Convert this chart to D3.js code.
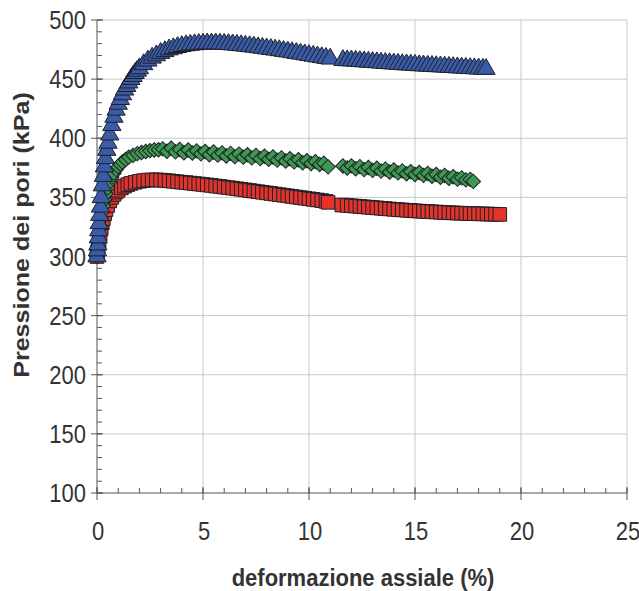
<!DOCTYPE html>
<html><head><meta charset="utf-8">
<script src="https://cdn.jsdelivr.net/npm/d3@7"></script>
<style>
body{margin:0;background:#fff;}
svg{display:block;}
text{font-family:"Liberation Sans",Arial,sans-serif;fill:#333;}
</style></head>
<body>
<svg id="chart" width="639" height="591"></svg>
<script>
// ---- data ----
const xTicks = [0, 5, 10, 15, 20, 25];
const yTicks = [100, 150, 200, 250, 300, 350, 400, 450, 500];
const xTitle = "deformazione assiale (%)";
const yTitle = "Pressione dei pori (kPa)";

// blue triangles (x = strain %, y = kPa)
const blueSeg1 = [[0,300],[0.02,305],[0.04,310],[0.06,316],[0.08,322],[0.1,328],[0.13,335],[0.16,342],[0.2,350],[0.25,360],[0.3,368],[0.35,376],[0.4,383],[0.46,390],[0.52,396],[0.6,403],[0.7,411],[0.8,418],[0.9,424],[1.0,429],[1.1,433],[1.2,437],[1.3,441],[1.4,444],[1.5,447],[1.6,450],[1.7,452.5],[1.8,455],[1.9,457],[2.0,459],[2.2,462.5],[2.4,465.5],[2.6,468],[2.8,470],[3.0,472],[3.2,473.5],[3.4,475],[3.6,476],[3.8,477],[4.0,477.8],[4.2,478.4],[4.4,478.9],[4.6,479.3],[4.8,479.6],[5.0,479.8],[5.2,480],[5.4,480],[5.6,480],[5.8,479.9],[6.0,479.7],[6.2,479.5],[6.4,479.2],[6.6,478.9],[6.8,478.5],[7.0,478.1],[7.2,477.7],[7.4,477.3],[7.6,476.8],[7.8,476.3],[8.0,475.8],[8.2,475.3],[8.4,474.8],[8.6,474.3],[8.8,473.7],[9.0,473.2],[9.2,472.6],[9.4,472],[9.6,471.4],[9.8,470.8],[10.0,470.2],[10.2,469.6],[10.4,469],[10.6,468.4],[10.8,467.8],[11.0,467.2]];
const blueSeg2 = [[11.6,466.0],[11.8,465.8],[12.0,465.6],[12.2,465.4],[12.4,465.1],[12.6,464.9],[12.8,464.6],[13.0,464.3],[13.2,464.1],[13.4,463.8],[13.6,463.5],[13.8,463.3],[14.0,463.0],[14.2,462.8],[14.4,462.5],[14.6,462.3],[14.8,462.1],[15.0,461.9],[15.2,461.6],[15.4,461.4],[15.6,461.2],[15.8,461.0],[16.0,460.8],[16.2,460.6],[16.4,460.4],[16.6,460.2],[16.8,460.0],[17.0,459.8],[17.2,459.6],[17.4,459.4],[17.6,459.2],[17.8,459.0],[18.0,458.8],[18.2,458.6],[18.35,458.5]];

// green diamonds (noisy band)
const greenSeg1 = [[0,300],[0.03,306],[0.06,312],[0.1,318],[0.15,326],[0.2,332],[0.25,338],[0.3,343],[0.36,348],[0.42,353],[0.5,358],[0.6,363],[0.7,367],[0.8,370.5],[0.9,373.5],[1.0,376],[1.1,378],[1.2,380],[1.35,382],[1.5,384],[1.7,385.5],[1.9,387],[2.1,388],[2.3,388.8],[2.5,389.5],[2.7,390],[2.9,390.3],[3.1,391],[3.3,389],[3.5,391.5],[3.7,388.5],[3.9,390.5],[4.1,387.8],[4.3,390],[4.5,387.5],[4.7,389.3],[4.9,386.8],[5.1,388.8],[5.3,386],[5.5,388.4],[5.7,385.7],[5.9,387.6],[6.1,385],[6.3,387.2],[6.5,384.5],[6.7,386.6],[6.9,384],[7.1,386],[7.3,383.4],[7.5,385.5],[7.7,382.8],[7.9,384.8],[8.1,382.3],[8.3,384.2],[8.5,381.5],[8.7,383.4],[8.9,380.8],[9.1,382.6],[9.3,380],[9.5,381.8],[9.7,379.3],[9.9,381],[10.1,378.6],[10.3,380.2],[10.5,377.8],[10.7,378.8],[10.9,375.8]];
const greenSeg2 = [[11.6,376.5],[11.8,374.8],[12.0,376.6],[12.2,374.2],[12.4,376],[12.6,373.5],[12.8,375.3],[13.0,372.8],[13.2,374.6],[13.4,372.2],[13.6,373.9],[13.8,371.4],[14.0,373.2],[14.2,370.7],[14.4,372.4],[14.6,370],[14.8,371.7],[15.0,369.3],[15.2,371],[15.4,368.6],[15.6,370.2],[15.8,367.9],[16.0,369.3],[16.2,367],[16.4,368.5],[16.6,366.2],[16.8,367.5],[17.0,365.4],[17.2,366.5],[17.4,364.8],[17.6,365.2],[17.75,363.5]];

// red squares
const redSeg1 = [[0,300],[0.03,304],[0.06,308],[0.1,313],[0.15,319],[0.2,324],[0.25,328.5],[0.3,332],[0.36,336],[0.42,339.5],[0.5,343],[0.6,347],[0.7,350],[0.8,352.5],[0.9,354.5],[1.0,356],[1.15,358],[1.3,359.5],[1.45,360.8],[1.6,361.8],[1.8,362.8],[2.0,363.6],[2.2,364.2],[2.4,364.6],[2.6,364.8],[2.8,364.8],[3.0,364.6],[3.2,364.3],[3.4,364],[3.6,363.6],[3.8,363.2],[4.0,362.8],[4.2,362.5],[4.4,362.1],[4.6,361.7],[4.8,361.3],[5.0,360.9],[5.2,360.5],[5.4,360.1],[5.6,359.6],[5.8,359.2],[6.0,358.7],[6.2,358.2],[6.4,357.8],[6.6,357.3],[6.8,356.8],[7.0,356.3],[7.2,355.8],[7.4,355.3],[7.6,354.8],[7.8,354.3],[8.0,353.8],[8.2,353.3],[8.4,352.8],[8.6,352.3],[8.8,351.8],[9.0,351.3],[9.2,350.8],[9.4,350.3],[9.6,349.8],[9.8,349.3],[10.0,348.8],[10.2,348.3],[10.4,347.8],[10.6,347.3],[10.8,346.6],[10.9,345.8]];
const redSeg2 = [[11.55,343.5],[11.8,343.2],[12.0,342.9],[12.2,342.6],[12.4,342.3],[12.6,342.0],[12.8,341.7],[13.0,341.4],[13.2,341.1],[13.4,340.8],[13.6,340.5],[13.8,340.2],[14.0,339.9],[14.2,339.6],[14.4,339.4],[14.6,339.1],[14.8,338.9],[15.0,338.6],[15.2,338.4],[15.4,338.2],[15.6,338.0],[15.8,337.8],[16.0,337.6],[16.2,337.4],[16.4,337.2],[16.6,337.0],[16.8,336.9],[17.0,336.7],[17.2,336.6],[17.4,336.4],[17.6,336.3],[17.8,336.2],[18.0,336.1],[18.2,336.0],[18.4,335.9],[18.6,335.8],[18.8,335.7],[19.0,335.6]];

// ---- layout ----
const svg = d3.select("#chart");
const L = 97, T = 20, R = 627, B = 493;
const x = d3.scaleLinear().domain([0, 25]).range([L, R]);
const y = d3.scaleLinear().domain([100, 500]).range([B, T]);

// gridlines
const grid = svg.append("g").attr("stroke", "#c9c9c9").attr("stroke-width", 1);
grid.selectAll("line.h").data(yTicks.filter(v => v > 100)).enter().append("line")
  .attr("x1", L).attr("x2", R).attr("y1", d => y(d)).attr("y2", d => y(d));
grid.selectAll("line.v").data(xTicks.filter(v => v > 0)).enter().append("line")
  .attr("y1", T).attr("y2", B).attr("x1", d => x(d)).attr("x2", d => x(d));

// axes
const axisCol = "#555";
const yMinor = d3.range(100, 501, 10);
const xMinor = d3.range(0, 26, 1);
const ax = svg.append("g").attr("stroke", axisCol).attr("stroke-width", 1);
ax.append("line").attr("x1", L).attr("x2", L).attr("y1", T).attr("y2", B);
ax.append("line").attr("x1", L).attr("x2", R).attr("y1", B).attr("y2", B);
ax.selectAll("line.ym").data(yMinor).enter().append("line")
  .attr("x1", L).attr("x2", L + 5).attr("y1", d => y(d)).attr("y2", d => y(d));
ax.selectAll("line.yM").data(yTicks).enter().append("line")
  .attr("x1", L - 6).attr("x2", L + 6).attr("y1", d => y(d)).attr("y2", d => y(d));
ax.selectAll("line.xm").data(xMinor).enter().append("line")
  .attr("y1", B).attr("y2", B - 5).attr("x1", d => x(d)).attr("x2", d => x(d));
ax.selectAll("line.xM").data(xTicks).enter().append("line")
  .attr("y1", B - 6).attr("y2", B + 7).attr("x1", d => x(d)).attr("x2", d => x(d));

// tick labels (slightly tall, as in the scanned original)
svg.append("g").selectAll("text").data(yTicks).enter().append("text")
  .attr("transform", d => `translate(86,${y(d)}) scale(1,1.15)`)
  .attr("dy", "0.36em")
  .attr("text-anchor", "end").style("font-size", "22px").text(d => d);
svg.append("g").selectAll("text").data(xTicks).enter().append("text")
  .attr("transform", d => `translate(${x(d) + 1},540) scale(1,1.15)`)
  .attr("text-anchor", "middle").style("font-size", "22px").text(d => d);

// titles
svg.append("text").attr("transform", "translate(363,586) scale(1,1.1)").attr("text-anchor", "middle")
  .style("font-size", "22px").style("font-weight", "bold").text(xTitle);
svg.append("text").attr("transform", "translate(29,235) rotate(-90) scale(1.14,1)")
  .attr("text-anchor", "middle").style("font-size", "22px").style("font-weight", "bold").text(yTitle);

// markers
const stroke = "#1f1f28";
const squarePath = d3.symbol().type(d3.symbolSquare).size(185)();
const diamondPath = d3.symbol().type(d3.symbolSquare).size(105)();
const trianglePath = d3.symbol().type(d3.symbolTriangle).size(145)();
function drawSeries(segs, shape, fill, rot) {
  const g = svg.append("g");
  segs.forEach(seg => {
    g.selectAll(null).data(seg).enter().append("path")
      .attr("d", shape)
      .attr("transform", d => `translate(${x(d[0])},${y(d[1])})` + (rot ? ` rotate(${rot})` : ""))
      .attr("fill", fill).attr("stroke", stroke).attr("stroke-width", 1);
  });
}
drawSeries([redSeg1, redSeg2], squarePath, "#e3342c", 0);
drawSeries([greenSeg1, greenSeg2], diamondPath, "#3e9a50", 45);
drawSeries([blueSeg1, blueSeg2], trianglePath, "#3a5ca8", 0);
</script>
</body></html>
